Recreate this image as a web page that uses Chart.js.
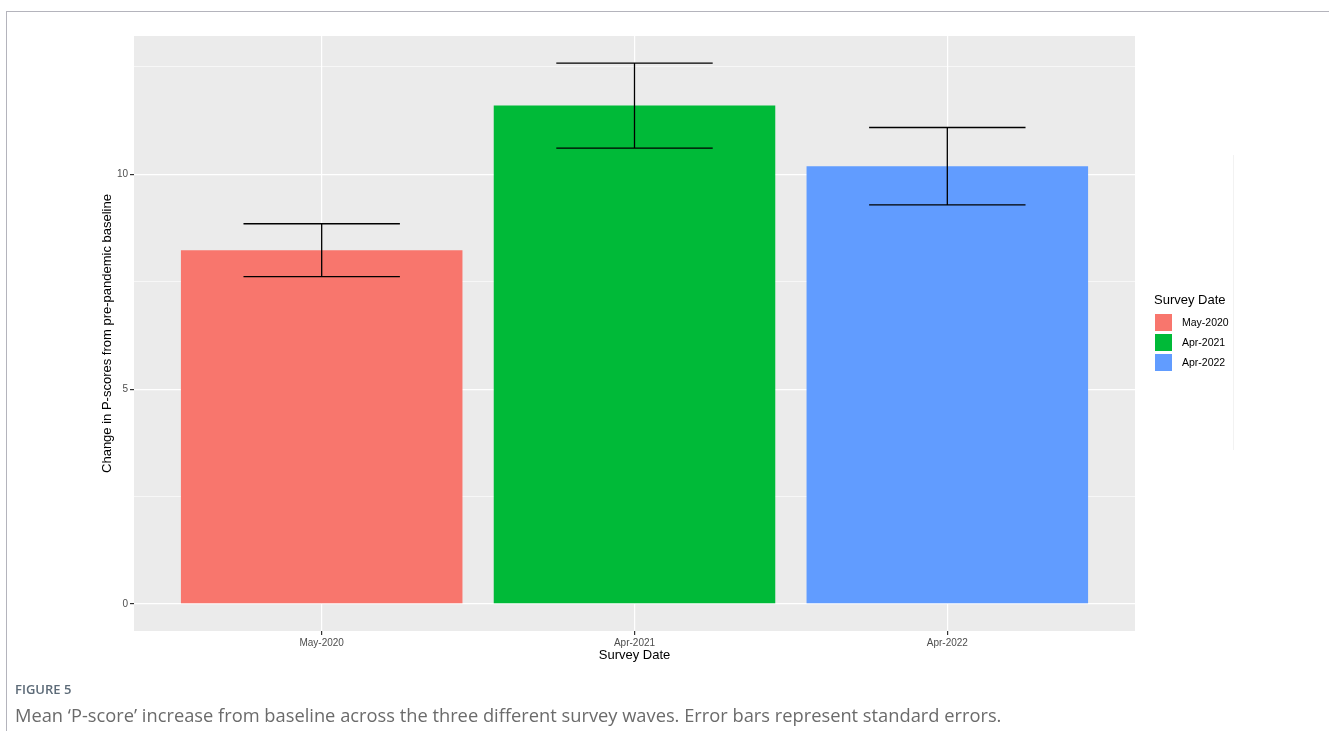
<!DOCTYPE html>
<html>
<head>
<meta charset="utf-8">
<script src="https://cdn.jsdelivr.net/npm/chart.js@4"></script>
<style>
    html, body { margin: 0; padding: 0; background: #fff; }
    body { width: 1329px; height: 731px; position: relative; overflow: hidden; font-family: "Liberation Sans", Arial, sans-serif; }
    #frame-top { position: absolute; left: 6px; top: 11px; width: 1323px; height: 1px; background: #b4b4bc; }
    #frame-left { position: absolute; left: 6px; top: 11px; width: 1px; height: 720px; background: #b4b4bc; }
    #faint-line { position: absolute; left: 1233px; top: 155px; width: 1px; height: 295px; background: #f2f2f2; }
    #chart-wrap { position: absolute; left: 0; top: 0; width: 1329px; height: 731px; }
    #legend { position: absolute; left: 1154px; top: 292px; }
    #legend .title { font-size: 13px; color: #000; margin-bottom: 5px; }
    #legend .item { display: flex; align-items: center; height: 20px; }
    #legend .key { width: 17px; height: 17px; margin-right: 9px; border: 0.5px solid #fff; }
    #legend .lbl { font-size: 10.5px; color: #000; }
    #fig-label { position: absolute; left: 15px; top: 680px; font-family: "Open Sans", sans-serif; font-weight: 600; font-size: 13px; color: #5d6b78; }
    #caption { position: absolute; left: 15px; top: 702px; font-family: "Open Sans", sans-serif; font-size: 18.3px; color: #6b6b6b; }
</style>
</head>
<body>
<div id="frame-top"></div>
<div id="frame-left"></div>
<div id="faint-line"></div>
<div id="chart-wrap"><canvas id="pscoreChart"></canvas></div>
<div id="legend"></div>
<div id="fig-label">FIGURE 5</div>
<div id="caption">Mean ‘P-score’ increase from baseline across the three different survey waves. Error bars represent standard errors.</div>

<script>
// survey waves and mean change
const surveyDates = ['May-2020', 'Apr-2021', 'Apr-2022'];
const meanChange = [8.23, 11.60, 10.19];
const errLower = [7.62, 10.61, 9.29];
const errUpper = [8.85, 12.59, 11.09];
const barColors = ['#F8766D', '#00BA38', '#619CFF'];
const yTickValues = [0, 2.5, 5, 7.5, 10, 12.5];
const yLabelValues = [0, 5, 10];

const panelBg = {
    id: 'panelBg',
    beforeDraw(chart) {
        const { ctx, chartArea: a } = chart;
        ctx.save();
        ctx.fillStyle = '#EBEBEB';
        ctx.fillRect(a.left, a.top, a.right - a.left, a.bottom - a.top);
        ctx.restore();
    }
};

const errorBars = {
    id: 'errorBars',
    afterDatasetsDraw(chart) {
        const { ctx, scales: { x, y } } = chart;
        ctx.save();
        ctx.strokeStyle = '#000';
        ctx.lineWidth = 1.3;
        surveyDates.forEach((d, i) => {
            const xc = x.getPixelForValue(i + 1);
            const x0 = x.getPixelForValue(i + 0.75);
            const x1 = x.getPixelForValue(i + 1.25);
            const yl = y.getPixelForValue(errLower[i]);
            const yh = y.getPixelForValue(errUpper[i]);
            ctx.beginPath();
            ctx.moveTo(x0, yh); ctx.lineTo(x1, yh);
            ctx.moveTo(x0, yl); ctx.lineTo(x1, yl);
            ctx.moveTo(xc, yh); ctx.lineTo(xc, yl);
            ctx.stroke();
        });
        ctx.restore();
    }
};

function buildLegend() {
    const box = document.getElementById('legend');
    let html = '<div class="title">Survey Date</div>';
    surveyDates.forEach((d, i) => {
        html += `<div class="item"><div class="key" style="background:${barColors[i]}"></div><span class="lbl">${d}</span></div>`;
    });
    box.innerHTML = html;
}

document.addEventListener('DOMContentLoaded', () => {
    buildLegend();
    const ctx = document.getElementById('pscoreChart').getContext('2d');
    new Chart(ctx, {
        type: 'bar',
        data: {
            datasets: [{
                data: meanChange.map((v, i) => ({ x: i + 1, y: v })),
                backgroundColor: barColors,
                borderWidth: 0,
                categoryPercentage: 0.9,
                barPercentage: 1.0
            }]
        },
        options: {
            responsive: true,
            maintainAspectRatio: false,
            animation: false,
            events: [],
            layout: { padding: { left: 96, right: 194, top: 36, bottom: 64 } },
            plugins: { legend: { display: false }, tooltip: { enabled: false } },
            scales: {
                x: {
                    type: 'linear',
                    min: 0.4,
                    max: 3.6,
                    offset: false,
                    afterBuildTicks: s => { s.ticks = surveyDates.map((d, i) => ({ value: i + 1 })); },
                    afterFit: s => { s.height = 36; },
                    border: { display: false },
                    grid: { offset: false, color: '#FFFFFF', lineWidth: 1.2, tickColor: '#333333', tickLength: 4 },
                    ticks: {
                        autoSkip: false,
                        maxRotation: 0,
                        padding: 2,
                        color: '#4D4D4D',
                        font: { family: 'Liberation Sans', size: 10 },
                        callback: v => surveyDates[Math.round(v) - 1]
                    },
                    title: { display: true, text: 'Survey Date', color: '#000', font: { family: 'Liberation Sans', size: 13 }, padding: { top: 0, bottom: 4 } }
                },
                y: {
                    min: -0.63,
                    max: 13.22,
                    afterBuildTicks: s => { s.ticks = yTickValues.map(v => ({ value: v })); },
                    afterFit: s => { s.width = 38; },
                    border: { display: false },
                    grid: {
                        color: '#FFFFFF',
                        lineWidth: c => (yLabelValues.includes(c.tick.value) ? 1.2 : 0.6),
                        tickColor: c => (yLabelValues.includes(c.tick.value) ? '#333333' : 'rgba(0,0,0,0)'),
                        tickLength: 4
                    },
                    ticks: {
                        padding: 2,
                        color: '#4D4D4D',
                        font: { family: 'Liberation Sans', size: 10 },
                        callback: v => (yLabelValues.includes(v) ? String(v) : '')
                    },
                    title: { display: true, text: 'Change in P-scores from pre-pandemic baseline', color: '#000', font: { family: 'Liberation Sans', size: 13 }, padding: { top: 4, bottom: 0 } }
                }
            }
        },
        plugins: [panelBg, errorBars]
    });
});
</script>
</body>
</html>
